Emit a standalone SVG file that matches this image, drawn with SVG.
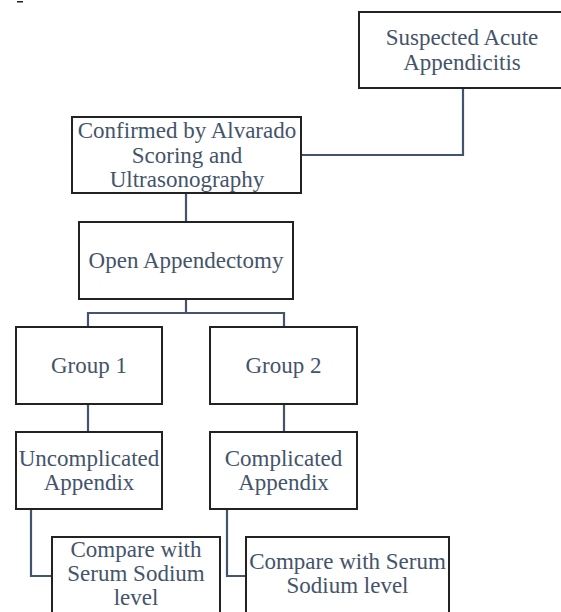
<svg xmlns="http://www.w3.org/2000/svg" width="561" height="612" viewBox="0 0 561 612">
<style>
.box{fill:#ffffff;stroke:#222222;stroke-width:2;}
.lbl{font-family:'Liberation Serif',serif;font-size:23px;fill:#44546a;text-anchor:middle;}
.conn{fill:none;stroke:#44546a;stroke-width:2.2;}
</style>
<rect x="0" y="0" width="561" height="612" fill="#ffffff"/>
<rect x="17" y="1" width="6" height="1.5" fill="#222222"/>
<g id="connectors">
<polyline class="conn" points="463,88 463,155 302,155"/>
<line class="conn" x1="186" y1="193" x2="186" y2="222"/>
<line class="conn" x1="186" y1="299" x2="186" y2="313"/>
<polyline class="conn" points="88,327 88,313 284,313 284,327"/>
<line class="conn" x1="88" y1="404" x2="88" y2="432"/>
<line class="conn" x1="284" y1="404" x2="284" y2="432"/>
<polyline class="conn" points="31,509 31,576 52,576"/>
<polyline class="conn" points="227,509 227,576 246,576"/>
</g>
<g id="suspected">
<rect class="box" x="359" y="12" width="206" height="76"/>
<text class="lbl" x="462" y="45">Suspected Acute</text>
<text class="lbl" x="462" y="69.5">Appendicitis</text>
</g>
<g id="confirmed">
<rect class="box" x="72" y="117" width="229" height="76"/>
<text class="lbl" x="187" y="138">Confirmed by Alvarado</text>
<text class="lbl" x="187" y="162.5">Scoring and</text>
<text class="lbl" x="187" y="187">Ultrasonography</text>
</g>
<g id="open">
<rect class="box" x="79" y="222" width="214" height="77"/>
<text class="lbl" x="186" y="268">Open Appendectomy</text>
</g>
<g id="group1">
<rect class="box" x="16" y="327" width="146" height="77"/>
<text class="lbl" x="89" y="373">Group 1</text>
</g>
<g id="group2">
<rect class="box" x="210" y="327" width="147" height="77"/>
<text class="lbl" x="283.5" y="373">Group 2</text>
</g>
<g id="uncomplicated">
<rect class="box" x="16" y="432" width="146" height="77"/>
<text class="lbl" x="89" y="465.5">Uncomplicated</text>
<text class="lbl" x="89" y="490">Appendix</text>
</g>
<g id="complicated">
<rect class="box" x="210" y="432" width="147" height="77"/>
<text class="lbl" x="283.5" y="465.5">Complicated</text>
<text class="lbl" x="283.5" y="490">Appendix</text>
</g>
<g id="compare1">
<rect class="box" x="52" y="537" width="168" height="84"/>
<text class="lbl" x="136" y="557">Compare with</text>
<text class="lbl" x="136" y="581">Serum Sodium</text>
<text class="lbl" x="136" y="605">level</text>
</g>
<g id="compare2">
<rect class="box" x="246" y="537" width="203" height="84"/>
<text class="lbl" x="347.5" y="569">Compare with Serum</text>
<text class="lbl" x="347.5" y="593">Sodium level</text>
</g>
</svg>
